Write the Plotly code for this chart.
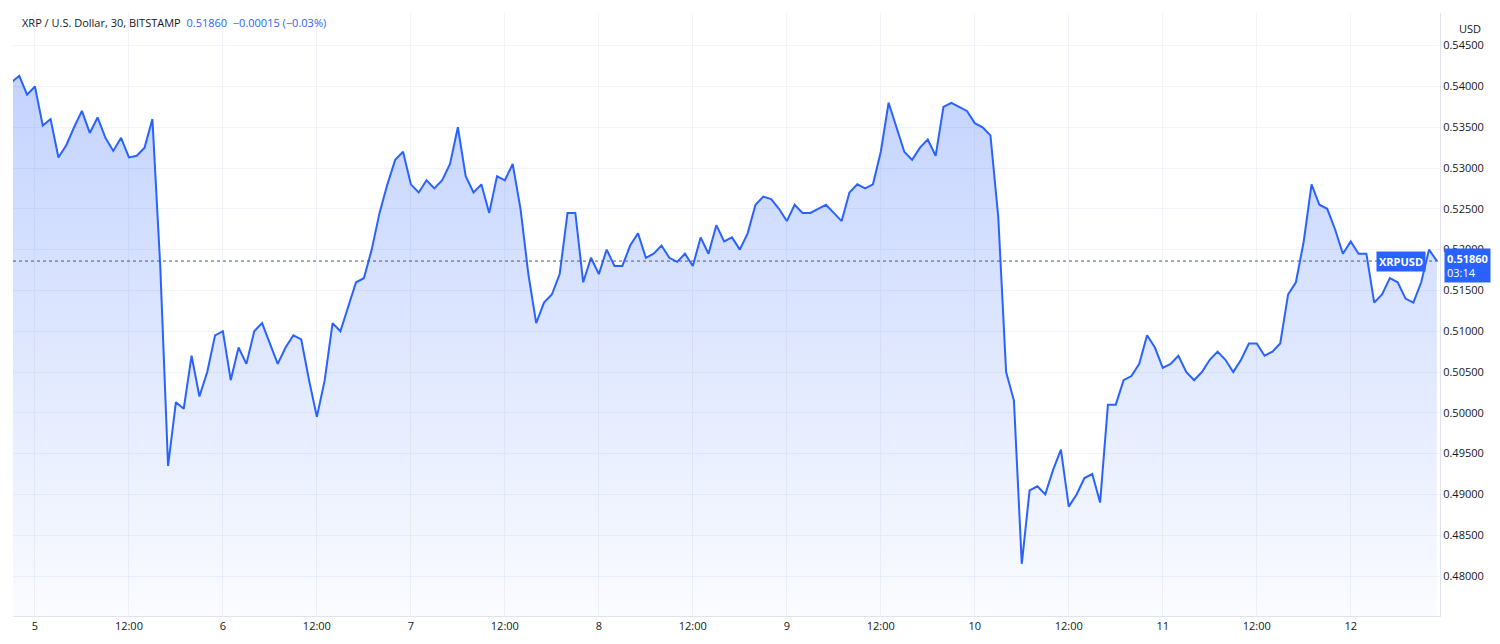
import plotly.graph_objects as go
import pandas as pd

start = "2023-09-04 21:00"
prices = [
0.5405,0.5413,0.5390,
0.5400,0.5352,0.5360,0.5313,0.5328,0.5350,0.5370,0.5343,0.5362,0.5337,0.5321,0.5337,
0.5313,0.5315,0.5325,0.5360,0.5180,0.4935,0.5013,0.5005,0.5070,0.5020,0.5050,0.5095,
0.5100,0.5040,0.5080,0.5060,0.5100,0.5110,0.5085,0.5060,0.5080,0.5095,0.5090,0.5040,
0.4995,0.5040,0.5110,0.5100,0.5130,0.5160,0.5165,0.5200,0.5245,0.5280,0.5310,0.5320,
0.5280,0.5270,0.5285,0.5275,0.5285,0.5305,0.5350,0.5290,0.5270,0.5280,0.5245,0.5290,
0.5285,0.5305,0.5250,0.5170,0.5110,0.5135,0.5145,0.5170,0.5245,0.5245,0.5160,0.5190,
0.5170,0.5200,0.5180,0.5180,0.5205,0.5220,0.5190,0.5195,0.5205,0.5190,0.5185,0.5195,
0.5180,0.5215,0.5195,0.5230,0.5210,0.5215,0.5200,0.5220,0.5255,0.5265,0.5262,0.5250,
0.5235,0.5255,0.5245,0.5245,0.5250,0.5255,0.5245,0.5235,0.5270,0.5280,0.5275,0.5280,
0.5320,0.5380,0.5350,0.5320,0.5310,0.5325,0.5335,0.5315,0.5375,0.5380,0.5375,0.5370,
0.5355,0.5350,0.5340,0.5240,0.5050,0.5015,0.4815,0.4905,0.4910,0.4900,0.4930,0.4955,
0.4885,0.4900,0.4920,0.4925,0.4890,0.5010,0.5010,0.5040,0.5045,0.5060,0.5095,0.5080,
0.5055,0.5060,0.5070,0.5050,0.5040,0.5050,0.5065,0.5075,0.5065,0.5050,0.5065,0.5085,
0.5085,0.5070,0.5075,0.5085,0.5145,0.5160,0.5210,0.5280,0.5255,0.5250,0.5225,0.5195,
0.5210,0.5195,0.5195,0.5135,0.5145,0.5165,0.5160,0.5140,0.5135,0.5160,0.5200,0.5186,
]
times = pd.date_range(start, periods=len(prices), freq="1h")
last_price = 0.5186
tick_times = ["2023-09-05 00:00","2023-09-05 12:00","2023-09-06 00:00","2023-09-06 12:00","2023-09-07 00:00","2023-09-07 12:00",
              "2023-09-08 00:00","2023-09-08 12:00","2023-09-09 00:00","2023-09-09 12:00","2023-09-10 00:00","2023-09-10 12:00",
              "2023-09-11 00:00","2023-09-11 12:00","2023-09-12 00:00"]
tick_labels = ["5","12:00","6","12:00","7","12:00","8","12:00","9","12:00","10","12:00","11","12:00","12"]
y_ticks = [0.480,0.485,0.490,0.495,0.500,0.505,0.510,0.515,0.520,0.525,0.530,0.535,0.540,0.545]

ymin, ymax = 0.4751, 0.5490
xmin = pd.Timestamp("2023-09-05") - pd.Timedelta(hours=2.8)
xmax = pd.Timestamp("2023-09-05") + pd.Timedelta(hours=179.4)

fig = go.Figure()
fig.add_trace(go.Scatter(x=times, y=[ymin]*len(times), mode="lines", line=dict(width=0),
                         hoverinfo="skip", showlegend=False))
fig.add_trace(go.Scatter(x=times, y=prices, mode="lines", line=dict(color="#2962ff", width=2),
                         fill="tonexty",
                         fillgradient=dict(type="vertical",
                                           colorscale=[[0, "rgba(41,98,255,0.02)"], [1, "rgba(41,98,255,0.28)"]]),
                         showlegend=False))
fig.add_hline(y=last_price, line=dict(color="#4a5a78", width=1, dash="dot"))

fig.update_layout(
    width=1500, height=644, margin=dict(l=5, r=68, t=5, b=36),
    paper_bgcolor="white", plot_bgcolor="white",
    font=dict(family="Open Sans, sans-serif", size=11, color="#131722"),
    xaxis=dict(range=[xmin, xmax], tickvals=pd.to_datetime(tick_times), ticktext=tick_labels,
               showgrid=True, gridcolor="#f0f3fa", zeroline=False, showline=True, linecolor="#e0e3eb",
               ticks="", tickfont=dict(size=11, color="#131722")),
    yaxis=dict(range=[ymin, ymax], side="right", tickvals=y_ticks, tickformat=".5f",
               showgrid=True, gridcolor="#f0f3fa", zeroline=False, showline=True, linecolor="#e0e3eb",
               ticks="", tickfont=dict(size=11, color="#131722")),
)
fig.add_annotation(xref="paper", yref="paper", x=0.005, y=0.985, xanchor="left", yanchor="middle",
    showarrow=False, font=dict(size=11),
    text="<span style='color:#131722'>XRP / U.S. Dollar, 30, BITSTAMP</span>  "
         "<span style='color:#2962ff'>0.51860  −0.00015 (−0.03%)</span>")
fig.add_annotation(xref="paper", yref="paper", x=1.012, y=0.975, xanchor="left", yanchor="middle",
    showarrow=False, text="USD", font=dict(size=11, color="#131722"))
fig.add_annotation(xref="paper", yref="y", x=0.99, y=last_price, xanchor="right", yanchor="middle",
    showarrow=False, text="<b>XRPUSD</b>", bgcolor="#2962ff", font=dict(size=11, color="white"),
    borderpad=2)
fig.add_annotation(xref="paper", yref="y", x=1.003, y=last_price - 0.0006, xanchor="left", yanchor="middle",
    showarrow=False, text="<b>0.51860</b><br>03:14", bgcolor="#2962ff", font=dict(size=11, color="white"),
    align="left", borderpad=2)
fig.write_html("out.html")
